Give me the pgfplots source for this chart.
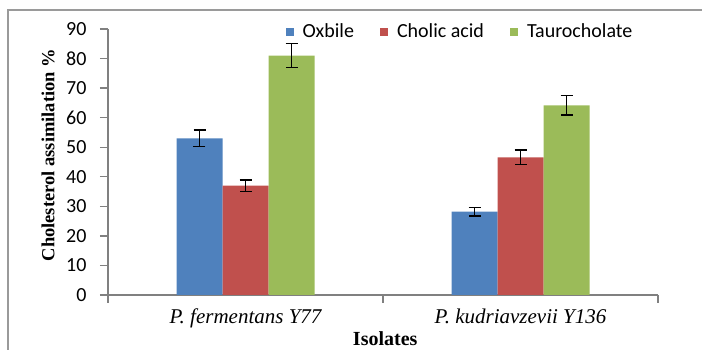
\documentclass[border=0pt]{standalone}
\usepackage{fontspec}
\setmainfont{Liberation Serif}
\newfontfamily\carlito{Carlito}
\usepackage{pgfplots}
\pgfplotsset{compat=1.18}
\definecolor{cblue}{RGB}{79,129,189}
\definecolor{cred}{RGB}{192,80,77}
\definecolor{cgreen}{RGB}{155,187,89}
\definecolor{axgray}{RGB}{128,128,128}
\begin{document}
\begin{tikzpicture}[x=1pt,y=1pt]
\useasboundingbox (0,0) rectangle (702,350);
\draw[axgray!80,line width=1.5pt] (8,-20) -- (8,340) -- (720,340);
\begin{axis}[
  at={(108pt,55pt)}, anchor=south west,
  scale only axis, width=550pt, height=266pt,
  xmin=-0.5, xmax=1.5, ymin=0, ymax=90,
  ytick={0,10,...,90},
  xtick={0,1},
  xticklabels={{\itshape P. fermentans Y77},{\itshape P. kudriavzevii Y136}},
  minor xtick={-0.5,0.5,1.5},
  axis x line*=bottom, axis y line*=left,
  axis line style={axgray, line width=1.3pt, -},
  tick style={axgray, line width=1.3pt},
  major x tick style={draw=none},
  major tick length=8pt, minor tick length=8pt,
  tick align=outside,
  /pgf/number format/assume math mode=true,
  yticklabel style={font=\carlito\fontsize{20}{23}\selectfont, xshift=-10pt},
  xticklabel style={font=\fontsize{21}{24}\selectfont, yshift=-2pt},
  ylabel={\textbf{Cholesterol assimilation \%}},
  every axis y label/.style={at={(axis description cs:-0.109,0.526)}, rotate=90, anchor=center, font=\fontsize{18.5}{21}\selectfont},
  xlabel={\textbf{Isolates}},
  every axis x label/.style={at={(axis description cs:0.504,-0.166)}, anchor=center, font=\fontsize{20}{23}\selectfont},
  ybar=0pt, bar width=46pt,
  error bars/y dir=both, error bars/y explicit,
  error bars/error bar style={black, line width=1.3pt},
  error bars/error mark options={rotate=90, mark size=6pt, line width=1.3pt, black},
  legend columns=3,
  legend style={at={(axis description cs:0.64,0.99)}, anchor=center, draw=none, fill=none,
    font=\carlito\fontsize{20}{23}\selectfont,
    /tikz/every odd column/.append style={column sep=7pt},
    /tikz/every even column/.append style={column sep=24pt}},
  legend image code/.code={\fill[#1] (0pt,-4pt) rectangle (8pt,4pt);},
]
\addplot[fill=cblue, draw=none] coordinates {(0,53) +- (0,2.8) (1,28.2) +- (0,1.5)};
\addplot[fill=cred, draw=none] coordinates {(0,37) +- (0,1.9) (1,46.6) +- (0,2.5)};
\addplot[fill=cgreen, draw=none] coordinates {(0,81) +- (0,4.1) (1,64.2) +- (0,3.3)};
\legend{Oxbile, Cholic acid, Taurocholate}
\end{axis}
\end{tikzpicture}
\end{document}
